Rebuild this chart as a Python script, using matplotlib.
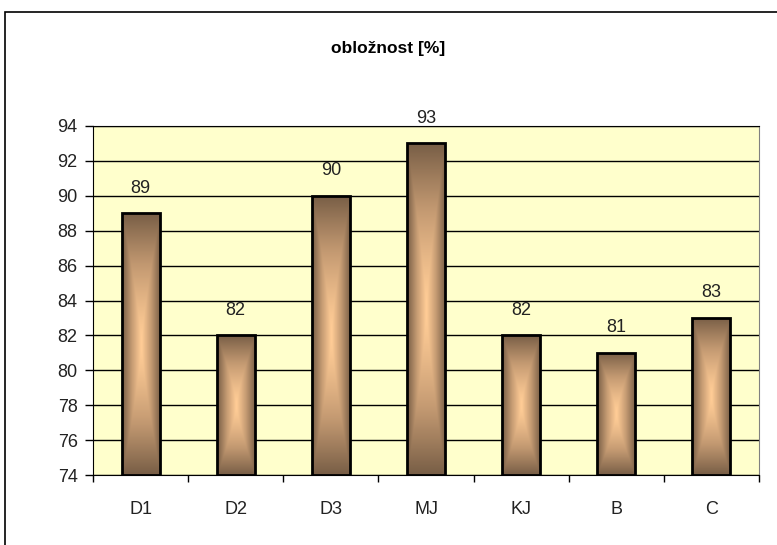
import numpy as np
import matplotlib
matplotlib.use("Agg")
import matplotlib.pyplot as plt
from matplotlib.colors import LinearSegmentedColormap
from matplotlib.patches import Rectangle

categories = ["D1", "D2", "D3", "MJ", "KJ", "B", "C"]
values = [89, 82, 90, 93, 82, 81, 83]
y_ticks = [74, 76, 78, 80, 82, 84, 86, 88, 90, 92, 94]

plt.rcParams["font.family"] = ["Liberation Sans", "DejaVu Sans"]

fig = plt.figure(figsize=(7.77, 5.45), dpi=100)
fig.patch.set_facecolor("white")

# chart-area border (cut off at right and bottom like the original)
fig.add_artist(Rectangle((5 / 777, -0.1), 1.2, 1.1 - 12 / 545,
                         transform=fig.transFigure, fill=False,
                         edgecolor="black", linewidth=1.2))

ax = fig.add_axes([93 / 777, 1 - 475 / 545, (759 - 93) / 777, (475 - 126) / 545])
ax.set_facecolor("#ffffcc")

x = np.arange(len(categories))
ymin = y_ticks[0]
bars = ax.bar(x, np.array(values) - ymin, bottom=ymin, width=0.4,
              facecolor="none", edgecolor="black", linewidth=2, zorder=4)

# rectangular "from center" gradient fill
cmap = LinearSegmentedColormap.from_list("bronze", ["#ffcc96", "#c49a72", "#785e46"])
u = np.linspace(-1, 1, 60)
v = np.linspace(-1, 1, 200)
U, V = np.meshgrid(u, v)
grad = np.maximum(np.abs(U), np.abs(V) ** 1.3)
for b in bars:
    x0, w = b.get_x(), b.get_width()
    y0, h = b.get_y(), b.get_height()
    im = ax.imshow(grad, cmap=cmap, extent=[x0, x0 + w, y0, y0 + h],
                   aspect="auto", origin="lower", zorder=3, interpolation="bilinear")
    im.set_clip_path(b)
    ax.annotate(str(int(y0 + h)), (x0 + w / 2, y0 + h), xytext=(0, 12),
                textcoords="offset points", ha="center", va="bottom",
                fontsize=13, color="#222222")

ax.set_xlim(-0.5, len(categories) - 0.5)
ax.set_ylim(ymin, y_ticks[-1])
ax.set_yticks(y_ticks)
ax.yaxis.grid(True, color="black", linewidth=1)
ax.set_axisbelow(True)

ax.set_xticks(np.arange(len(categories) + 1) - 0.5)
ax.set_xticklabels([])
ax.set_xticks(x, minor=True)
ax.set_xticklabels(categories, minor=True)
ax.tick_params(axis="x", which="major", length=5, direction="out", width=1)
ax.tick_params(axis="x", which="minor", length=0, pad=19, labelsize=13, labelcolor="#222222")
ax.tick_params(axis="y", length=6, direction="out", width=1, pad=5, labelsize=13, labelcolor="#222222")

for s in ["left", "bottom", "top"]:
    ax.spines[s].set_color("black")
ax.spines["right"].set_color("#808080")

fig.text(0.5, 1 - 49 / 545, "obložnost [%]", ha="center", va="center",
         fontsize=12.5, fontweight="bold")

fig.savefig("out.png", dpi=100)
